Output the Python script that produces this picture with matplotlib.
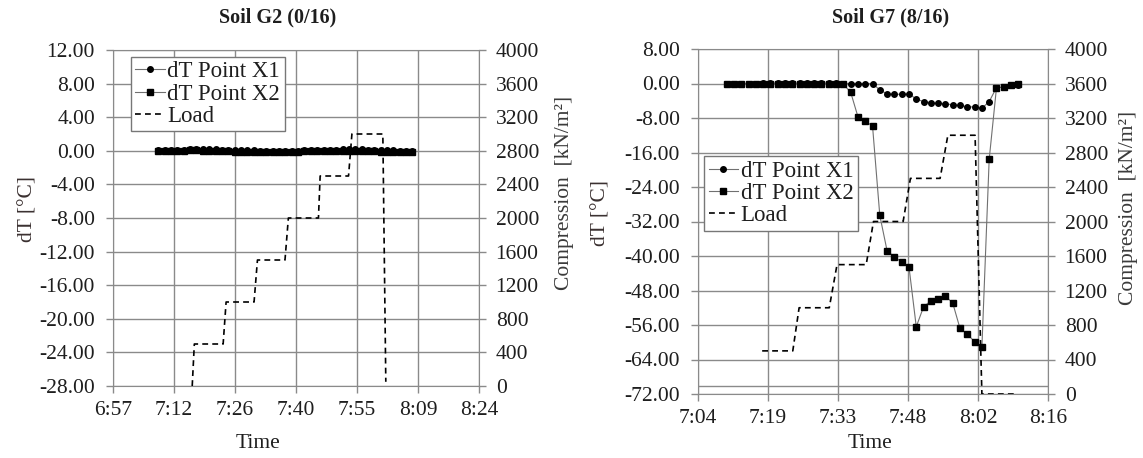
import matplotlib
matplotlib.use('Agg')
import matplotlib.pyplot as plt

plt.rcParams['font.family'] = ['Liberation Serif', 'DejaVu Serif']
plt.rcParams['axes.unicode_minus'] = False

# ---- data (time in minutes after midnight) ----
# Soil G2 (0/16)
time_g2 = [428.3, 429.8, 431.3, 432.8, 434.3, 435.8, 437.3, 438.8, 440.3, 441.8,
           443.3, 444.8, 446.3, 447.8, 449.3, 450.8, 452.3, 453.8, 455.3, 456.8,
           458.3, 459.8, 461.3, 462.8, 464.3, 465.8, 467.3, 468.8, 470.3, 471.8,
           473.3, 474.8, 476.3, 477.8, 479.3, 480.8, 482.3, 483.8, 485.3, 486.8,
           488.3]
x1_g2 = [0.05, 0.08, 0.10, 0.12, 0.15, 0.18, 0.20, 0.22, 0.20, 0.18,
         0.15, 0.12, 0.10, 0.08, 0.05, 0.05, 0.03, 0.02, 0.02, 0.02,
         0.03, 0.03, 0.03, 0.05, 0.05, 0.08, 0.10, 0.12, 0.15, 0.18,
         0.20, 0.20, 0.18, 0.15, 0.12, 0.10, 0.08, 0.05, 0.02, 0.00,
         -0.02]
x2_g2 = [-0.05, -0.03, -0.02, 0.00, 0.02, 0.05, 0.05, 0.03, 0.00, -0.02,
         -0.05, -0.08, -0.10, -0.10, -0.12, -0.12, -0.12, -0.10, -0.10, -0.10,
         -0.12, -0.12, -0.10, -0.08, -0.05, -0.03, 0.00, 0.02, 0.03, 0.02,
         0.00, -0.02, -0.05, -0.05, -0.08, -0.10, -0.10, -0.12, -0.12, -0.15,
         -0.15]
load_time_g2 = [436.3, 436.8, 443.6, 444.3, 450.9, 451.7, 458.2, 459.0, 466.1, 466.5,
                473.2, 474.0, 481.3, 482.0]
load_g2 = [0, 500, 500, 1000, 1000, 1500, 1500, 2000, 2000, 2500,
           2500, 3000, 3000, 50]

# Soil G7 (8/16)
time_g7 = [430.7, 432.2, 433.7, 435.2, 436.7, 438.2, 439.7, 441.2, 442.7, 444.2,
           445.7, 447.2, 448.7, 450.2, 451.7, 453.2, 454.7, 456.2, 457.7, 459.2,
           460.7, 462.2, 463.7, 465.2, 466.7, 468.2, 469.7, 471.2, 472.7, 474.2,
           475.7, 477.2, 478.7, 480.2, 481.7, 483.2, 484.7, 486.2, 487.7, 489.2,
           490.7]
x1_g7 = [0.0, 0.0, 0.0, 0.0, 0.0, 0.1, 0.1, 0.1, 0.1, 0.1,
         0.1, 0.1, 0.1, 0.1, 0.1, 0.1, 0.0, 0.0, 0.0, 0.0,
         0.0, -1.5, -2.4, -2.5, -2.5, -2.4, -3.6, -4.2, -4.45, -4.6,
         -4.75, -4.9, -5.1, -5.4, -5.45, -5.75, -4.2, -0.95, -0.9, -0.4,
         -0.25]
x2_g7 = [0.0, 0.0, 0.0, 0.0, 0.0, 0.0, 0.0, 0.0, 0.0, 0.0,
         0.0, 0.0, 0.0, 0.0, 0.0, 0.0, -0.2, -2.0, -7.7, -8.8,
         -9.8, -30.6, -38.8, -40.2, -41.4, -42.5, -56.4, -51.8, -50.4, -49.9,
         -49.3, -50.9, -56.8, -58.1, -59.9, -61.2, -17.6, -1.0, -0.8, -0.3,
         -0.2]
load_time_g7 = [438.0, 444.3, 445.6, 451.8, 453.4, 459.4, 460.9, 467.0, 468.5, 474.6,
                476.2, 481.8, 483.2, 490.4]
load_g7 = [500, 500, 1000, 1000, 1500, 1500, 2000, 2000, 2500, 2500,
           3000, 3000, 0, 0]
baseline_g7 = -70.1

# axis ticks
xticks_g2 = [417.6, 432.0, 446.4, 460.8, 475.2, 489.6, 504.0]
xlabels_g2 = ['6:57', '7:12', '7:26', '7:40', '7:55', '8:09', '8:24']
yticks_g2 = [12, 8, 4, 0, -4, -8, -12, -16, -20, -24, -28]
xticks_g7 = [424.8, 439.2, 453.6, 468.0, 482.4, 496.8]
xlabels_g7 = ['7:04', '7:19', '7:33', '7:48', '8:02', '8:16']
yticks_g7 = [8, 0, -8, -16, -24, -32, -40, -48, -56, -64, -72]
load_ticks = [0, 400, 800, 1200, 1600, 2000, 2400, 2800, 3200, 3600, 4000]

GRID = '#8a8a8a'
TXT = '#1e1e1e'
FS = 15.5


def draw_panel(ax, t, x1, x2, lt, load, xticks, xlabels, yticks, legend_anchor):
    '''
    Draw one dT / load panel.
    '''
    ax.set_xlim(xticks[0], xticks[-1])
    ax.set_ylim(yticks[-1], yticks[0])
    ax.set_xticks(xticks)
    ax.set_xticklabels(xlabels)
    ax.set_yticks(yticks)
    ax.set_yticklabels([f'{v:.2f}' for v in yticks])
    ax.grid(True, color=GRID, linewidth=1.0)
    ax.set_axisbelow(True)
    for s in ax.spines.values():
        s.set_color(GRID)
    ax.tick_params(direction='out', length=5, width=1, color=GRID,
                   labelsize=FS, labelcolor=TXT)
    ax.tick_params(axis='y', pad=8)
    ax.tick_params(axis='x', pad=6)

    l1, = ax.plot(t, x1, color='#707070', linewidth=0.8, marker='o',
                  markersize=4, markerfacecolor='black', markeredgecolor='black',
                  label='dT Point X1', zorder=3)
    l2, = ax.plot(t, x2, color='#707070', linewidth=0.8, marker='s',
                  markersize=4, markerfacecolor='black', markeredgecolor='black',
                  label='dT Point X2', zorder=3)

    ax2 = ax.twinx()
    ax2.set_ylim(0, 4000)
    ax2.set_yticks(load_ticks)
    ax2.set_yticklabels([str(v) for v in load_ticks])
    ax2.tick_params(direction='out', length=5, width=1, color=GRID,
                    labelsize=FS, labelcolor=TXT, pad=7)
    for s in ax2.spines.values():
        s.set_visible(False)
    l3, = ax2.plot(lt, load, color='black', linewidth=1.2, linestyle=(0, (3.5, 2.5)),
                   label='Load')

    leg = ax2.legend(handles=[l1, l2, l3], loc='upper left', bbox_to_anchor=legend_anchor,
                     fontsize=16.5, frameon=True, fancybox=False, framealpha=1,
                     edgecolor='#777777', borderpad=0.2, labelspacing=0.05,
                     handlelength=1.3, handletextpad=0.1, borderaxespad=0)
    leg.get_frame().set_linewidth(1.0)
    for txt in leg.get_texts():
        txt.set_color(TXT)
    return ax2


fig = plt.figure(figsize=(11.43, 4.58), dpi=100)
W, H = 1143, 458

ax_g2 = fig.add_axes([113 / W, (H - 386) / H, 366 / W, 336 / H])
draw_panel(ax_g2, time_g2, x1_g2, x2_g2, load_time_g2, load_g2,
           xticks_g2, xlabels_g2, yticks_g2, (0.048, 0.98))

ax_g7 = fig.add_axes([698 / W, (H - 394) / H, 350 / W, 345 / H])
ax_g7.axhline(baseline_g7, color=GRID, linewidth=1.0, zorder=1)
draw_panel(ax_g7, time_g7, x1_g7, x2_g7, load_time_g7, load_g7,
           xticks_g7, xlabels_g7, yticks_g7, (0.017, 0.69))

# titles and axis labels
fig.text(278 / W, 1 - 17 / H, 'Soil G2 (0/16)', ha='center', va='center',
         fontsize=14.5, fontweight='bold', color=TXT)
fig.text(891 / W, 1 - 17 / H, 'Soil G7 (8/16)', ha='center', va='center',
         fontsize=14.5, fontweight='bold', color=TXT)
fig.text(258 / W, 1 - 444 / H, 'Time', ha='center', va='center', fontsize=FS, color=TXT)
fig.text(870 / W, 1 - 444 / H, 'Time', ha='center', va='center', fontsize=FS, color=TXT)
fig.text(28 / W, 1 - 209 / H, 'dT [°C]', rotation=90, ha='center', va='center',
         fontsize=FS, color='#3a3030')
fig.text(601 / W, 1 - 213 / H, 'dT [°C]', rotation=90, ha='center', va='center',
         fontsize=FS, color='#3a3030')
fig.text(565 / W, 1 - 193 / H, 'Compression  [kN/m²]', rotation=90, ha='center',
         va='center', fontsize=FS, color='#3a3a3a')
fig.text(1129 / W, 1 - 208 / H, 'Compression  [kN/m²]', rotation=90, ha='center',
         va='center', fontsize=FS, color='#3a3a3a')

fig.savefig('out.png', dpi=100)
